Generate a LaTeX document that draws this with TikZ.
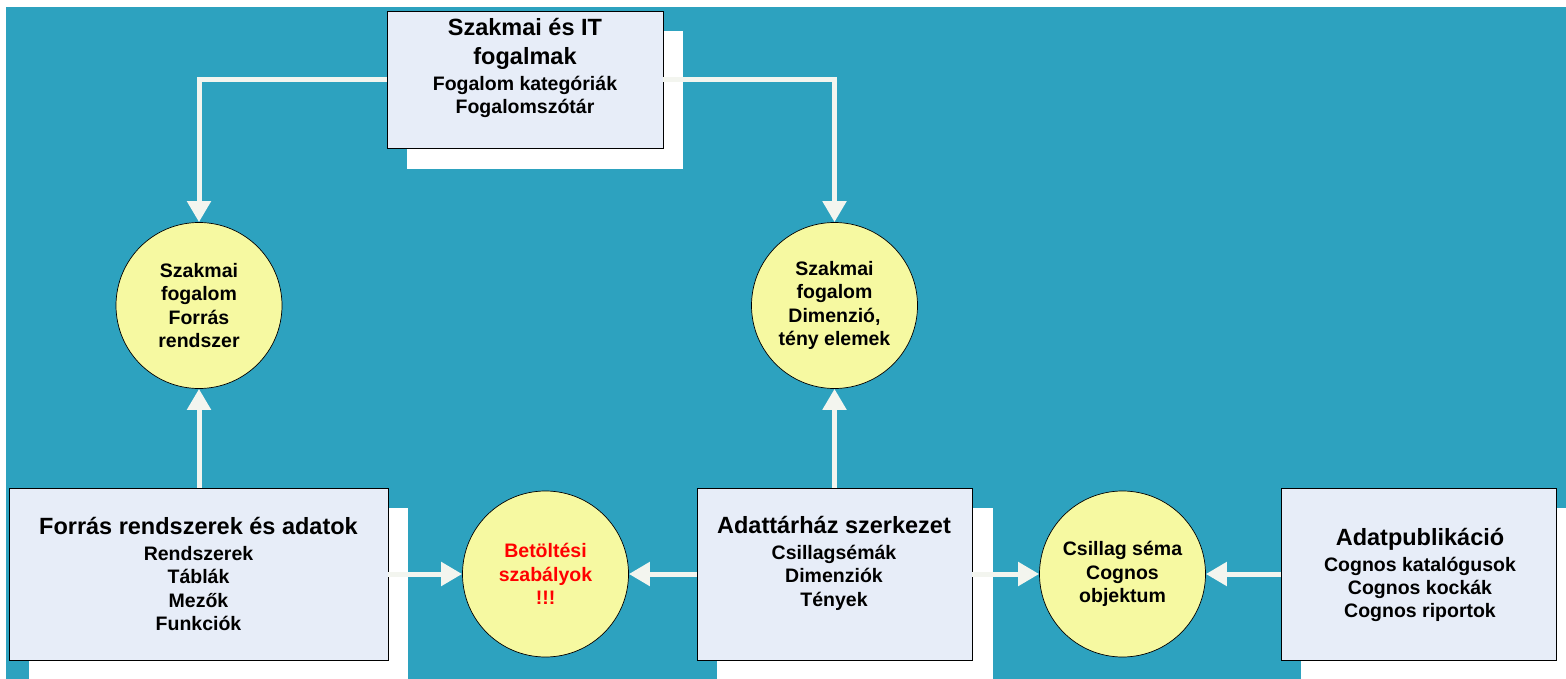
\documentclass[tikz,border=0pt]{standalone}
\usepackage{fontspec}
\setmainfont{Liberation Sans}
\usetikzlibrary{arrows.meta}
\definecolor{bgteal}{HTML}{2DA2BF}
\definecolor{boxfill}{HTML}{E7EDF8}
\definecolor{circfill}{HTML}{F6F9A1}
\definecolor{arrcol}{HTML}{F3F5EF}
\newcommand\bigf{\fontsize{23.5}{29}\selectfont}
\newcommand\smallf{\fontsize{19.5}{23.3}\selectfont}
\tikzset{
  boxnode/.style={draw=black, line width=0.8pt, fill=boxfill, inner sep=0pt},
  shadowbox/.style={fill=white},
  txtnode/.style={align=center, inner sep=0pt, font=\bfseries\smallf},
  circnode/.style={circle, draw=black, line width=0.7pt, fill=circfill, minimum size=166pt, inner sep=0pt, align=center, font=\bfseries\smallf},
  arr/.style={draw=arrcol, line width=5pt, -{Triangle[width=23pt,length=21pt]}}
}
\begin{document}
\begin{tikzpicture}[x=1pt,y=-1pt]
\useasboundingbox (0,0) rectangle (1566,679);
\fill[white] (0,0) rectangle (1566,679);
\fill[bgteal] (6,7) rectangle (1566,679);
% shadows
\fill[shadowbox] (407,31) rectangle (683,169);
\fill[shadowbox] (29,508) rectangle (408,679);
\fill[shadowbox] (717,508) rectangle (993,679);
\fill[shadowbox] (1301,508) rectangle (1566,679);
% boxes
\node[boxnode, minimum width=276pt, minimum height=137pt] (top) at (525,79.5) {};
\node[boxnode, minimum width=379pt, minimum height=172pt] (forras) at (198.5,574) {};
\node[boxnode, minimum width=275pt, minimum height=172pt] (adat) at (834.5,574) {};
\node[boxnode, minimum width=275pt, minimum height=172pt] (pub) at (1418.5,574) {};
% box texts
\node[txtnode] (ttop) at (525,68) {{\bigf Szakmai és IT}\\[5.7pt]{\bigf fogalmak}\\[2.7pt]Fogalom kategóriák\\Fogalomszótár};
\node[txtnode] (tforras) at (198.5,574) {{\bigf Forrás rendszerek és adatok}\\[2.4pt]Rendszerek\\Táblák\\Mezők\\Funkciók};
\node[txtnode] (tadat) at (834,563.5) {{\bigf Adattárház szerkezet}\\[2.4pt]Csillagsémák\\Dimenziók\\Tények};
\node[txtnode] (tpub) at (1420,575) {{\bigf Adatpublikáció}\\[2.4pt]Cognos katalógusok\\Cognos kockák\\Cognos riportok};
% circles
\node[circnode] (c1) at (199,305.5) {Szakmai\\fogalom\\Forrás\\rendszer};
\node[circnode] (c2) at (834.5,305.5) {Szakmai\\fogalom\\Dimenzió,\\tény elemek};
\node[circnode, text=red] (c3) at (545.5,574) {Betöltési\\szabályok\\!!!};
\node[circnode] (c4) at (1122.5,574) {Csillag séma\\Cognos\\objektum};
% connectors
\draw[arr] (top.west) -| (c1.north);
\draw[arr] (top.east) -| (c2.north);
\draw[arr] (c1.south |- forras.north) -- (c1.south);
\draw[arr] (adat.north) -- (c2.south);
\draw[arr] (forras.east) -- (c3.west);
\draw[arr] (adat.west) -- (c3.east);
\draw[arr] (adat.east) -- (c4.west);
\draw[arr] (pub.west) -- (c4.east);
\end{tikzpicture}
\end{document}
